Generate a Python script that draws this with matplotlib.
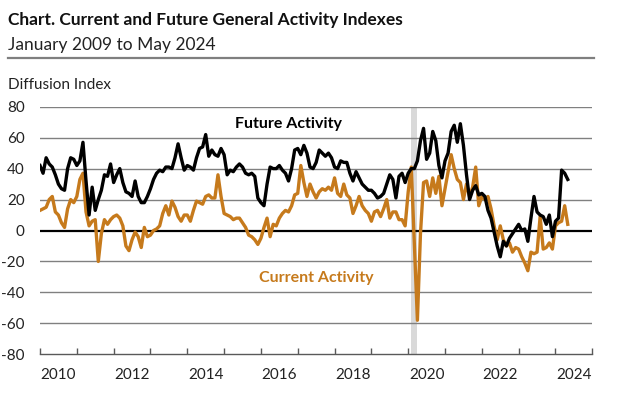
import numpy as np
import matplotlib
matplotlib.use("Agg")
import matplotlib.pyplot as plt
from matplotlib.lines import Line2D

plt.rcParams['font.family'] = ['Lato', 'DejaVu Sans']
plt.rcParams['axes.unicode_minus'] = False

# monthly values, Jan 2010 .. May 2024
future_activity = [
    42, 37, 47, 43, 41, 36, 30, 27, 26, 40, 47, 46,     # 2010
    42, 45, 57, 32, 10, 28, 13, 20, 26, 36, 35, 43,     # 2011
    31, 36, 40, 31, 25, 24, 22, 32, 22, 18, 18, 22,     # 2012
    27, 33, 37, 39, 38, 41, 41, 40, 47, 56, 47, 39,     # 2013
    42, 41, 39, 47, 53, 54, 62, 48, 52, 49, 48, 53,     # 2014
    49, 36, 39, 38, 41, 43, 41, 37, 36, 37, 35, 21,     # 2015
    18, 16, 30, 41, 40, 40, 42, 39, 37, 32, 40, 52,     # 2016
    53, 49, 55, 50, 41, 40, 44, 52, 50, 48, 50, 47,     # 2017
    41, 40, 45, 44, 44, 37, 32, 38, 34, 30, 28, 26,     # 2018
    26, 24, 21, 22, 24, 30, 36, 33, 21, 35, 37, 31,     # 2019
    37, 40, 40, 45, 58, 66, 46, 50, 64, 58, 42, 34,     # 2020
    45, 50, 64, 68, 57, 69, 55, 36, 20, 26, 29, 23,     # 2021
    24, 22, 13, 8, -1, -10, -17, -7, -10, -5, -2, 1,    # 2022
    4, 0, 1, -7, 8, 22, 12, 10, 9, 4, 10, -4,           # 2023
    6, 8, 39, 37, 33,                                   # 2024
]
current_activity = [
    13, 14, 15, 20, 22, 12, 10, 5, 2, 14, 20, 18,       # 2010
    22, 33, 37, 12, 3, 6, 7, -20, -2, 7, 4, 7,          # 2011
    9, 10, 8, 3, -10, -13, -6, -1, -4, -11, 2, -4,      # 2012
    -3, 0, 1, 3, 11, 16, 10, 19, 15, 9, 6, 10,          # 2013
    10, 6, 13, 19, 18, 17, 22, 23, 21, 21, 36, 22,      # 2014
    11, 10, 9, 7, 8, 8, 5, 2, -3, -4, -6, -9,           # 2015
    -5, 2, 8, -4, 4, 3, 8, 11, 13, 12, 16, 23,          # 2016
    24, 42, 31, 22, 30, 25, 21, 25, 27, 26, 28, 26,     # 2017
    34, 24, 22, 30, 23, 21, 11, 16, 22, 16, 13, 11,     # 2018
    6, 12, 13, 9, 14, 20, 8, 12, 12, 7, 7, 3,           # 2019
    25, 41, -8, -58, -2, 31, 32, 22, 34, 24, 35, 16,    # 2020
    27, 38, 49, 40, 33, 31, 20, 30, 22, 28, 41, 16,     # 2021
    22, 20, 22, 14, 3, -6, 3, -6, -10, -8, -14, -11,    # 2022
    -12, -17, -21, -26, -14, -15, -14, 9, -12, -11, -8, -12,  # 2023
    3, 5, 6, 16, 4,                                     # 2024
]
year_labels = ['2010', '2012', '2014', '2016', '2018', '2020', '2022', '2024']
recession = (2020 + 1 / 12, 2020 + 3 / 12)

orange = '#C67A1C'
months = 2010 + np.arange(len(future_activity)) / 12

fig = plt.figure(figsize=(6.17, 3.97), dpi=100)
ax = fig.add_axes([40 / 617, 1 - 354.3 / 397, 552.3 / 617, 247.6 / 397])

ax.axvspan(*recession, color='#d9d9d9', lw=0, zorder=0)
for v in [80, 60, 40, 20, -20, -40, -60]:
    ax.axhline(v, color='#808080', lw=1.0, zorder=1)
ax.axhline(0, color='black', lw=1.6, zorder=2)

ax.plot(months, current_activity, color=orange, lw=2.4, zorder=3)
ax.plot(months, future_activity, color='black', lw=2.4, zorder=4)

ax.set_xlim(2010, 2025)
ax.set_ylim(-80, 80)
ax.set_yticks(range(-80, 81, 20))
ax.tick_params(axis='y', length=0, pad=11, labelsize=11, labelcolor='#222222')

ax.set_xticks(range(2010, 2026))
ax.set_xticklabels([])
ax.set_xticks([int(y) + 0.5 for y in year_labels], minor=True)
ax.set_xticklabels(year_labels, minor=True)
ax.tick_params(axis='x', which='major', direction='in', length=4, color='#595959', width=1)
ax.tick_params(axis='x', which='minor', length=0, pad=10, labelsize=11, labelcolor='#222222')

for s in ['top', 'right', 'left']:
    ax.spines[s].set_visible(False)
ax.spines['bottom'].set_color('#595959')
ax.spines['bottom'].set_linewidth(1)

ax.text(2016.74, 69, 'Future Activity', fontsize=11.5, fontweight='bold', color='black',
        ha='center', va='center')
ax.text(2017.5, -31, 'Current Activity', fontsize=11.5, fontweight='bold', color=orange,
        ha='center', va='center')

fig.text(8 / 617, 1 - 20 / 397, 'Chart. Current and Future General Activity Indexes',
         fontsize=12.5, fontweight='bold', color='#111111', va='center')
fig.text(8 / 617, 1 - 45 / 397, 'January 2009 to May 2024', fontsize=12.5,
         color='#222222', va='center')
fig.add_artist(Line2D([8 / 617, 594 / 617], [1 - 58 / 397] * 2, color='#7f7f7f', lw=1.6))
fig.text(8 / 617, 1 - 85 / 397, 'Diffusion Index', fontsize=11, color='#222222', va='center')

fig.savefig('out.png', dpi=100)
